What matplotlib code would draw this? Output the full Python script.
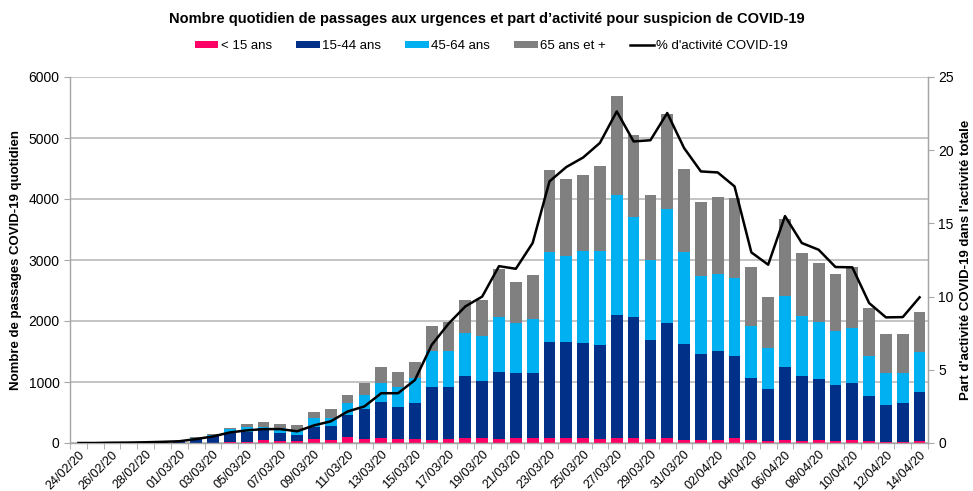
import matplotlib
matplotlib.use("Agg")
import matplotlib.pyplot as plt
from matplotlib.patches import Patch
from matplotlib.lines import Line2D
import numpy as np
import pandas as pd

plt.rcParams['font.family'] = ['Liberation Sans', 'DejaVu Sans']

dates = pd.date_range("2020-02-24", "2020-04-14").strftime("%d/%m/%y").tolist()

under15 = [0, 0, 0, 0, 0, 0, 0, 5, 8, 10, 20, 45, 40, 25, 70, 55, 95, 60, 85, 65, 65, 50, 65, 76, 76,
           65, 76, 76, 90, 76, 76, 70, 90, 90, 70, 76, 55, 55, 55, 76, 45, 40, 50, 30, 49, 30, 45,
           30, 20, 20, 30]
a15_44 = [1, 2, 3, 3, 6, 8, 15, 65, 102, 154, 155, 195, 124, 112, 200, 218, 360, 491, 592, 519, 596,
          873, 858, 1027, 945, 1103, 1077, 1077, 1571, 1574, 1569, 1536, 2008, 1981, 1618, 1886,
          1562, 1404, 1453, 1356, 1015, 840, 1188, 1070, 995, 921, 933, 746, 603, 641, 811]
a45_64 = [0, 1, 1, 1, 3, 4, 8, 15, 27, 61, 93, 15, 82, 78, 140, 145, 195, 235, 300, 328, 398, 584,
          589, 693, 732, 891, 820, 880, 1464, 1415, 1508, 1547, 1967, 1628, 1312, 1879, 1519, 1278,
          1262, 1267, 863, 683, 1177, 987, 945, 890, 913, 650, 519, 492, 656]
a65plus = [1, 0, 1, 2, 3, 3, 7, 20, 11, 21, 47, 85, 69, 75, 105, 142, 140, 202, 263, 256, 273, 415,
           475, 546, 589, 787, 672, 721, 1350, 1262, 1246, 1388, 1628, 1350, 1065, 1552, 1350, 1208,
           1268, 1312, 967, 825, 1251, 1028, 967, 924, 989, 781, 645, 634, 656]
pct_covid = [0, 0, 0.02, 0.03, 0.05, 0.08, 0.12, 0.27, 0.45, 0.72, 0.86, 0.95, 0.95, 0.8, 1.2, 1.48,
             2.15, 2.5, 3.4, 3.4, 4.3, 6.7, 8.15, 9.33, 10.0, 12.08, 11.9, 13.66, 17.87, 18.85, 19.5,
             20.5, 22.65, 20.6, 20.68, 22.54, 20.15, 18.55, 18.48, 17.53, 13.02, 12.18, 15.5, 13.66,
             13.2, 12.02, 12.0, 9.56, 8.58, 8.6, 9.95]

series_names = ["< 15 ans", "15-44 ans", "45-64 ans", "65 ans et +"]
colors = ["#FF0066", "#003087", "#00B0F0", "#808080"]
line_name = "% d'activité COVID-19"

fig = plt.figure(figsize=(9.73, 4.91), dpi=100)
ax = fig.add_axes([70/973, 48/491, 858/973, 366/491])

x = np.arange(len(dates))
bottom = np.zeros(len(dates))
for vals, c in zip([under15, a15_44, a45_64, a65plus], colors):
    ax.bar(x, vals, bottom=bottom, width=0.7, color=c, edgecolor='none', zorder=2)
    bottom += np.array(vals)

gridc = "#BFBFBF"
ax.set_xlim(-0.5, len(dates) - 0.5)
ax.set_ylim(0, 6000)
ax.set_yticks(range(0, 6001, 1000))
ax.yaxis.grid(True, color=gridc, linewidth=1.3, zorder=0)
ax.set_axisbelow(True)
ax.spines['top'].set_visible(False)
for s in ['left', 'right', 'bottom']:
    ax.spines[s].set_color("#A6A6A6")
    ax.spines[s].set_linewidth(1.0)

ax.set_xticks(x[::2])
ax.set_xticklabels(dates[::2], rotation=45, ha='right', rotation_mode='anchor', fontsize=9)
ax.tick_params(axis='x', length=0, pad=4)
ax.set_xticks(np.arange(-0.5, len(dates), 1), minor=True)
ax.tick_params(axis='x', which='minor', length=4, color="#A6A6A6")
ax.tick_params(axis='y', labelsize=10, length=4, color="#A6A6A6")
ax.set_ylabel("Nombre de passages COVID-19 quotidien", fontsize=9.5, fontweight='bold', labelpad=5)

ax2 = ax.twinx()
ax2.plot(x, pct_covid, color='black', linewidth=1.8, zorder=5)
ax2.set_ylim(0, 25)
ax2.set_yticks(range(0, 26, 5))
ax2.tick_params(axis='y', labelsize=10, length=4, color="#A6A6A6")
for s in ['top', 'left', 'bottom']:
    ax2.spines[s].set_visible(False)
ax2.spines['right'].set_color("#A6A6A6")
ax2.set_ylabel("Part d'activité COVID-19 dans l'activité totale", fontsize=9.5, fontweight='bold',
               rotation=90, labelpad=4)

fig.text(0.5, 0.962, "Nombre quotidien de passages aux urgences et part d\u2019activité pour suspicion de COVID-19",
         ha='center', va='center', fontsize=10.5, fontweight='bold')

handles = [Patch(facecolor=c, edgecolor='none') for c in colors] + [Line2D([0], [0], color='black', lw=1.8)]
fig.legend(handles, series_names + [line_name], loc='center', bbox_to_anchor=(0.505, 0.906), ncol=5,
           frameon=False, fontsize=9.5, handlelength=1.8, handleheight=0.5, handletextpad=0.2,
           columnspacing=1.8)

fig.savefig("out.png", dpi=100)
